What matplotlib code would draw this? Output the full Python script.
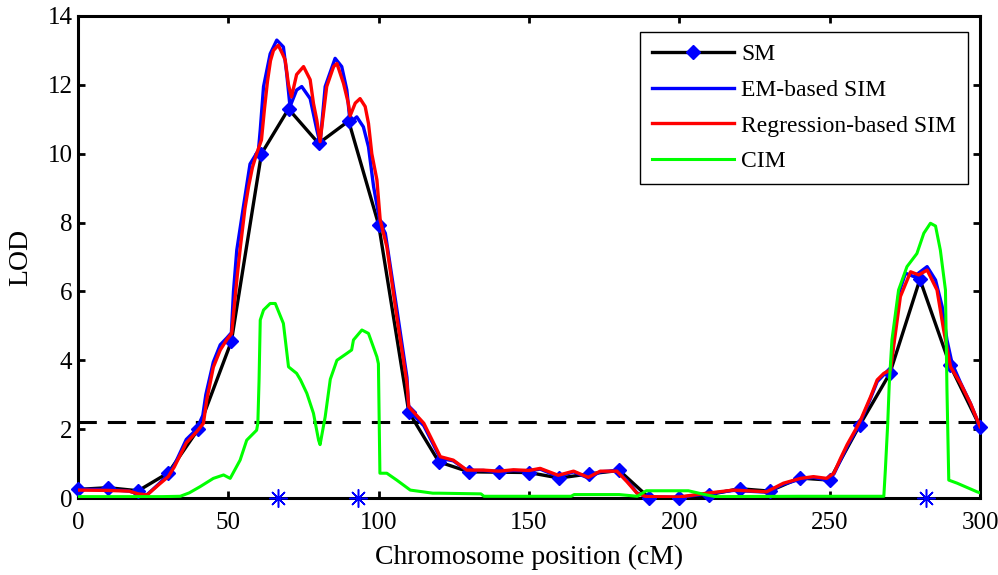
import matplotlib
matplotlib.use('Agg')
import matplotlib.pyplot as plt

# --- data ---

# single marker analysis (values at marker positions, cM)
sm_pos = [0, 10, 20, 30, 40, 51, 61, 70, 80, 90, 100, 110, 120, 130, 140, 150,
          160, 170, 180, 190, 200, 210, 220, 230, 240, 250, 260, 270, 280, 290, 300]
sm_lod = [0.25, 0.3, 0.21, 0.73, 2.0, 4.55, 10.0, 11.3, 10.3, 10.95, 7.93, 2.5, 1.05, 0.76,
          0.75, 0.74, 0.58, 0.7, 0.8, 0.0, 0.0, 0.1, 0.27, 0.2, 0.58, 0.52, 2.12, 3.62,
          6.35, 3.86, 2.07]

# EM-based simple interval mapping
em_pos = [0, 10, 17, 20, 23, 27, 30, 32, 36, 39.5, 41.5, 42.5, 45, 47.3, 49.5, 51,
          51.7, 52.8, 55, 57.2, 60, 60.6, 61.7, 63.9, 66.1, 68.3, 69.4, 70.5, 72.7,
          74.4, 77.2, 79.4, 80.5, 82.2, 85.5, 87.7, 89.4, 90.5, 92.7, 94.9, 96.6, 98.3,
          100.5, 102.2, 106, 109.4, 110, 115, 120.5, 124.8, 129.3, 134.8, 140, 144.8,
          150, 153.7, 159.7, 164.8, 169.7, 173.7, 179.2, 182.6, 185.9, 189, 200, 209.2,
          218, 229, 234.6, 240.3, 244.6, 249, 251.4, 253.6, 255.8, 259, 260.2, 263.6,
          265.8, 268, 270.2, 273, 275.2, 278, 282.4, 285.2, 287.4, 289, 290.7, 293.5,
          296.8, 300]
em_lod = [0.25, 0.25, 0.2, 0.12, 0.1, 0.42, 0.68, 0.95, 1.7, 2.0, 2.4, 3.0, 3.95, 4.45,
          4.65, 4.8, 6.0, 7.2, 8.46, 9.7, 10.1, 10.69, 11.95, 12.9, 13.3, 13.1, 12.33,
          11.37, 11.85, 11.95, 11.6, 10.7, 10.3, 11.95, 12.77, 12.53, 11.85, 10.9, 11.07,
          10.78, 10.2, 9.04, 7.98, 7.69, 5.5, 3.5, 2.55, 2.1, 1.15, 1.08, 0.8, 0.8, 0.76,
          0.8, 0.78, 0.84, 0.62, 0.76, 0.58, 0.76, 0.8, 0.5, 0.15, 0.03, 0.02, 0.12, 0.22,
          0.17, 0.4, 0.55, 0.6, 0.52, 0.7, 1.1, 1.5, 2.0, 2.2, 2.9, 3.38, 3.58, 3.68,
          5.95, 6.53, 6.43, 6.72, 6.33, 5.56, 4.59, 3.91, 3.35, 2.75, 2.07]

# regression-based simple interval mapping
reg_pos = [0, 10, 17, 20, 23, 27, 30, 32, 36, 39.5, 41.7, 42.8, 45, 47.3, 49.5, 51.1,
           52, 53, 54, 55.5, 56.7, 58, 59.4, 61, 62, 63, 64, 65, 66.6, 68, 68.9, 70, 71,
           72.7, 75, 77.2, 78.3, 79.4, 80.5, 82.7, 85, 86.1, 88.3, 89.9, 90.5, 92.2, 93.8,
           95.5, 96.6, 97.7, 99.4, 100.5, 102.7, 106, 109.4, 110, 115, 120.5, 124.8,
           129.3, 134.8, 140, 144.8, 150, 153.7, 159.7, 164.8, 169.7, 173.7, 179.2, 182.6,
           185.9, 189, 200, 209.2, 218, 229, 234.6, 240.3, 244.6, 249, 251.4, 253.6,
           255.8, 259, 260.2, 263.6, 265.8, 268, 270.2, 273.5, 276.9, 279.6, 282.4,
           285.7, 287.9, 290.2, 293.5, 296.8, 300]
reg_lod = [0.23, 0.22, 0.2, 0.12, 0.09, 0.4, 0.62, 0.9, 1.6, 1.93, 2.17, 2.85, 3.8, 4.3,
           4.6, 4.78, 5.6, 6.5, 7.3, 8.4, 9.04, 9.6, 10.0, 10.4, 11.3, 12.1, 12.7, 13.0,
           13.15, 12.9, 12.72, 12.0, 11.65, 12.3, 12.53, 12.15, 11.46, 10.98, 10.35,
           11.95, 12.53, 12.62, 12.04, 11.46, 11.1, 11.47, 11.6, 11.37, 10.88, 10.0, 9.24,
           8.07, 7.3, 5.27, 3.33, 2.65, 2.17, 1.2, 1.1, 0.81, 0.81, 0.78, 0.82, 0.8, 0.86,
           0.66, 0.78, 0.6, 0.78, 0.78, 0.47, 0.14, 0.04, 0.03, 0.14, 0.23, 0.18, 0.43,
           0.57, 0.62, 0.57, 0.72, 1.15, 1.55, 2.05, 2.25, 2.94, 3.43, 3.62, 3.72, 5.85,
           6.57, 6.48, 6.62, 6.04, 4.88, 3.81, 3.33, 2.75, 2.07]

# composite interval mapping
cim_pos = [0, 28, 34, 37, 40.6, 45, 48.4, 50.6, 53.9, 56.1, 59.4, 59.8, 60.2, 60.6, 61.7,
           63.9, 65.6, 68.3, 70, 72.7, 74, 76.1, 78.3, 80, 80.5, 82.2, 83.9, 86.1, 89.4,
           91, 91.6, 94.4, 96.6, 99.4, 99.9, 100.4, 102.7, 106, 110.5, 118, 120, 134, 135,
           164, 165, 180, 186, 189, 203, 209, 212, 240, 268, 268.5, 269.3, 269.8, 270.7,
           272.9, 275.7, 279, 281.3, 283.5, 285.2, 286.8, 288.5, 289, 289.6, 292.4, 299,
           300]
cim_lod = [0.04, 0.04, 0.05, 0.15, 0.33, 0.57, 0.67, 0.57, 1.1, 1.68, 1.97, 2.17, 3.4,
           5.17, 5.46, 5.65, 5.65, 5.07, 3.81, 3.62, 3.43, 3.04, 2.46, 1.68, 1.55, 2.36,
           3.45, 4.0, 4.2, 4.3, 4.59, 4.88, 4.78, 4.1, 3.9, 0.72, 0.72, 0.52, 0.23, 0.14,
           0.14, 0.12, 0.05, 0.05, 0.1, 0.1, 0.05, 0.21, 0.21, 0.09, 0.04, 0.05, 0.05, 0.8,
           2.17, 3.3, 4.59, 6.04, 6.72, 7.1, 7.69, 7.98, 7.9, 7.2, 6.04, 3.14, 0.52, 0.43,
           0.18, 0.15]

qtl_pos = [66.5, 93, 282]   # true QTL positions (asterisks on the axis)
threshold = 2.2

plt.rcParams['font.family'] = ['Liberation Serif', 'DejaVu Serif']

fig = plt.figure(figsize=(9.98, 5.75), dpi=100)
ax = fig.add_axes([0.0782, 0.1339, 0.9038, 0.8383])

ax.plot(sm_pos, sm_lod, color='k', lw=2.4, marker='D', ms=7, mfc='b', mec='b',
        label='SM', zorder=3, clip_on=False)
ax.plot(em_pos, em_lod, color='b', lw=2.4, label='EM-based SIM', zorder=4)
ax.plot(reg_pos, reg_lod, color='r', lw=2.4, label='Regression-based SIM', zorder=5)
ax.plot(cim_pos, cim_lod, color=(0, 1, 0), lw=2.2, label='CIM', zorder=6)

ax.axhline(threshold, color='k', lw=2.2, ls=(0, (6, 3.6)), zorder=2)
ax.plot(qtl_pos, [0] * len(qtl_pos), ls='none', marker=(8, 2, 0), ms=13,
        mec='b', mew=1.1, clip_on=False, zorder=7)

ax.set_xlim(0, 300)
ax.set_ylim(0, 14)
ax.set_xticks(range(0, 301, 50))
ax.set_yticks(range(0, 15, 2))
ax.tick_params(direction='in', top=True, right=True, length=5, width=2,
               labelsize=18, pad=4)
ax.tick_params(axis='x', pad=10)
for sp in ax.spines.values():
    sp.set_linewidth(2.2)

ax.set_xlabel('Chromosome position (cM)', fontsize=20, labelpad=8)
ax.set_ylabel('LOD', fontsize=20, labelpad=10)

leg = ax.legend(loc='upper right', bbox_to_anchor=(0.9867, 0.9668), borderaxespad=0,
                fontsize=17, handlelength=3.5, numpoints=1, fancybox=False,
                framealpha=1, edgecolor='k', labelspacing=0.6, borderpad=0.5,
                handletextpad=0.3)
leg.get_frame().set_linewidth(1)

fig.savefig('out.png', dpi=100)
